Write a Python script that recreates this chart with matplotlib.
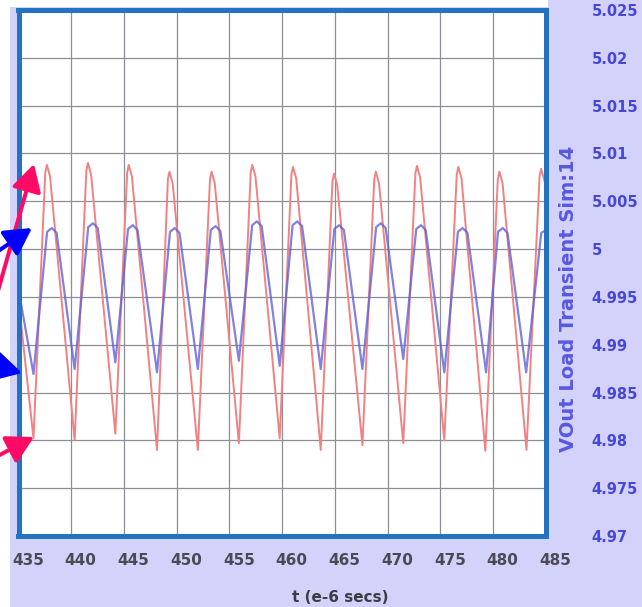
import matplotlib
matplotlib.use("Agg")
import matplotlib.pyplot as plt
from matplotlib.patches import Rectangle
from matplotlib.transforms import ScaledTranslation

# VOut load transient, time in microseconds, volts
red_t = [435.0,
         436.42, 437.54, 437.69, 437.99,
         440.32, 441.43, 441.58, 441.88,
         444.18, 445.30, 445.45, 445.75,
         448.13, 449.16, 449.31, 449.61,
         452.00, 453.15, 453.30, 453.60,
         455.89, 457.01, 457.16, 457.46,
         459.76, 460.87, 461.02, 461.32,
         463.65, 464.76, 464.91, 465.21,
         467.60, 468.72, 468.87, 469.17,
         471.47, 472.62, 472.77, 473.07,
         475.36, 476.54, 476.69, 476.99,
         479.25, 480.43, 480.58, 480.88,
         483.15, 484.39, 484.54, 484.84,
         485.0]
red_v = [4.9947,
         4.9802, 5.0080, 5.0088, 5.0076,
         4.9800, 5.0082, 5.0090, 5.0078,
         4.9807, 5.0080, 5.0088, 5.0076,
         4.9790, 5.0073, 5.0081, 5.0069,
         4.9790, 5.0073, 5.0081, 5.0069,
         4.9797, 5.0080, 5.0088, 5.0076,
         4.9802, 5.0078, 5.0086, 5.0074,
         4.9790, 5.0071, 5.0079, 5.0067,
         4.9795, 5.0073, 5.0081, 5.0069,
         4.9797, 5.0079, 5.0087, 5.0075,
         4.9800, 5.0078, 5.0086, 5.0074,
         4.9789, 5.0073, 5.0081, 5.0069,
         4.9790, 5.0076, 5.0084, 5.0072,
         5.0066]

blue_t = [435.0,
          436.42, 437.71, 438.16, 438.61,
          440.32, 441.61, 442.06, 442.51,
          444.18, 445.38, 445.83, 446.28,
          448.13, 449.36, 449.81, 450.26,
          452.00, 453.23, 453.68, 454.13,
          455.89, 457.15, 457.60, 458.05,
          459.76, 460.98, 461.43, 461.88,
          463.65, 464.94, 465.39, 465.84,
          467.60, 468.90, 469.35, 469.80,
          471.47, 472.70, 473.15, 473.60,
          475.36, 476.65, 477.10, 477.55,
          479.32, 480.45, 480.90, 481.35,
          483.12, 484.55, 485.0]
blue_v = [4.9958,
          4.98694, 5.0018, 5.0022, 5.0017,
          4.98746, 5.0023, 5.0027, 5.0022,
          4.98815, 5.0021, 5.0025, 5.0020,
          4.98711, 5.0018, 5.0022, 5.0017,
          4.98746, 5.0020, 5.0024, 5.0019,
          4.98832, 5.0025, 5.0029, 5.0024,
          4.98780, 5.0025, 5.0029, 5.0024,
          4.98746, 5.0021, 5.0025, 5.0020,
          4.98746, 5.0023, 5.0027, 5.0022,
          4.98850, 5.0021, 5.0025, 5.0020,
          4.98711, 5.0018, 5.0022, 5.0017,
          4.98711, 5.0018, 5.0022, 5.0017,
          4.98711, 5.0017, 5.0020]

x_ticks = [435, 440, 445, 450, 455, 460, 465, 470, 475, 480, 485]
y_ticks = [4.97, 4.975, 4.98, 4.985, 4.99, 4.995, 5.0, 5.005, 5.01, 5.015, 5.02, 5.025]
y_tick_labels = ["4.97", "4.975", "4.98", "4.985", "4.99", "4.995", "5",
                 "5.005", "5.01", "5.015", "5.02", "5.025"]

LAVENDER = "#d2d2fa"
BORDER = "#2273c3"
W, H = 642, 607

fig = plt.figure(figsize=(W / 100, H / 100), dpi=100, facecolor=LAVENDER)

# white strips left and top (screenshot crop)
fig.add_artist(Rectangle((0, 0), 10 / W, 1, transform=fig.transFigure,
                         facecolor="white", edgecolor="none", zorder=0))
fig.add_artist(Rectangle((0, 1 - 7 / H), 548 / W, 7 / H, transform=fig.transFigure,
                         facecolor="white", edgecolor="none", zorder=0))

ax = fig.add_axes([18.5 / W, (H - 536) / H, 527.5 / W, 526 / H])
ax.set_facecolor("white")

ax.plot(red_t, red_v, color="#f08282", lw=1.4, zorder=3)
ax.plot(blue_t, blue_v, color="#6262d8", lw=1.6, alpha=0.8, zorder=4)

ax.set_xlim(435, 485)
ax.set_ylim(4.97, 5.025)
ax.set_xticks(x_ticks)
ax.set_xticklabels([str(v) for v in x_ticks])
ax.set_yticks(y_ticks)
ax.set_yticklabels(y_tick_labels)
ax.yaxis.tick_right()

ax.grid(True, color="#8e8e96", lw=0.9)
ax.set_axisbelow(True)
for s in ax.spines.values():
    s.set_color(BORDER)
    s.set_linewidth(3.6)
    s.set_zorder(5)

ax.tick_params(axis="x", length=0, pad=12.5, labelsize=11, labelcolor="#4a4a55")
ax.tick_params(axis="y", length=0, pad=33, labelsize=10.5, labelcolor="#4646d8")
for lab in ax.get_xticklabels() + ax.get_yticklabels():
    lab.set_fontweight("bold")
for lab in ax.get_xticklabels():
    lab.set_transform(lab.get_transform() + ScaledTranslation(0.095, 0, fig.dpi_scale_trans))
for lab in ax.get_yticklabels():
    lab.set_horizontalalignment("left")

fig.text(568 / W, 1 - 299 / H, "VOut Load Transient Sim:14", rotation=90,
         ha="center", va="center", fontsize=14, fontweight="bold", color="#5858e2")
fig.text(340 / W, 1 - 598 / H, "t (e-6 secs)", ha="center", va="center",
         fontsize=11, fontweight="bold", color="#3c3c46")

# annotation arrows coming in from the left edge
PINK = "#ff0a64"
arrows = [
    ((-10, H - 319), (34, H - 164), PINK),
    ((-10, H - 460), (34, H - 437), PINK),
    ((-12, H - 258), (32, H - 228), "#0000ff"),
    ((-20, H - 362), (22, H - 373), "#0000ff"),
]
for tail, tip, col in arrows:
    ax.annotate("", xy=tip, xycoords="figure pixels", xytext=tail,
                textcoords="figure pixels", annotation_clip=False,
                arrowprops=dict(arrowstyle="-|>,head_length=0.45,head_width=0.25",
                                mutation_scale=36, lw=2.9, color=col,
                                shrinkA=0, shrinkB=0), zorder=10)

fig.savefig("out.png", dpi=100, facecolor=LAVENDER)
